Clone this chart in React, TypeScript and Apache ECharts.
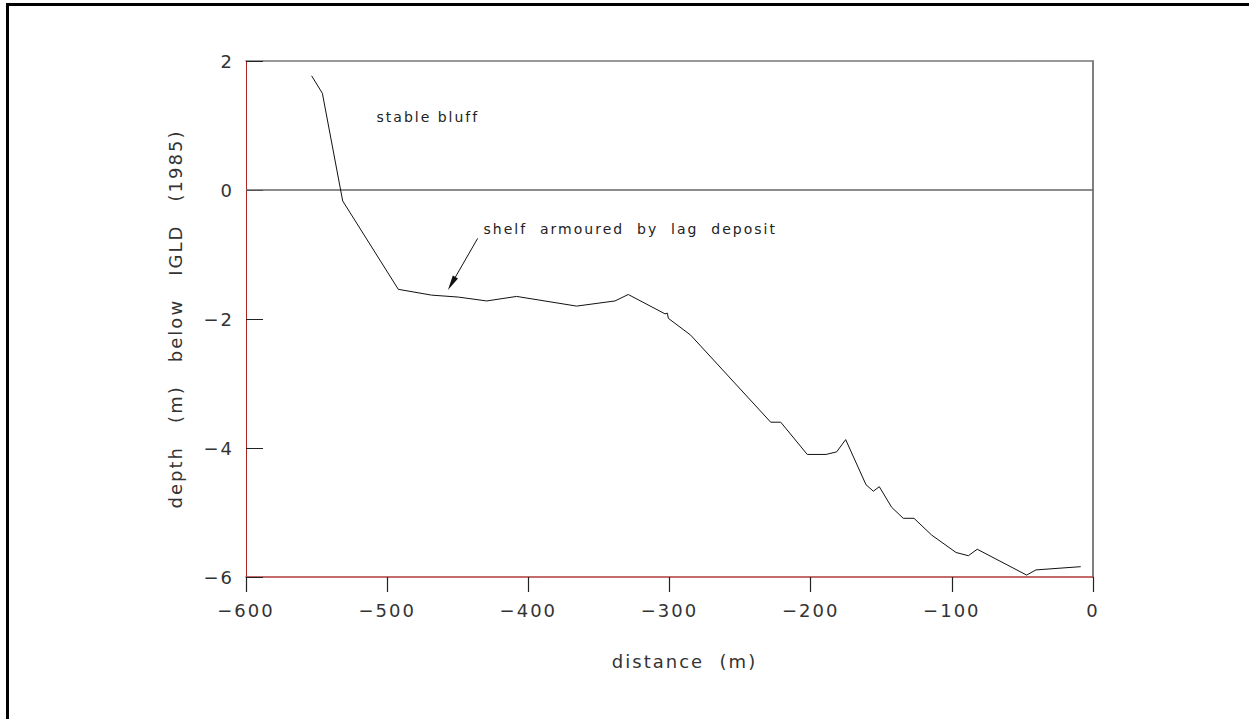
import React, { useEffect, useRef } from "react";
import * as echarts from "echarts";

// profile: distance (m) vs depth (m) below IGLD (1985)
const DISTANCE = [
  -553.5, -545.9, -531.5, -492.1, -468.5, -449.6, -429.5, -408.3, -365.8, -338.6,
  -329.2, -303.2, -301.5, -300.8, -285.0, -228.3, -221.2, -202.4, -189.1, -181.6,
  -175.2, -160.8, -155.6, -151.4, -142.6, -134.4, -126.8, -114.3, -97.0, -88.3,
  -82.0, -47.0, -40.4, -8.7,
];
const DEPTH = [
  1.77, 1.5, -0.17, -1.54, -1.63, -1.66, -1.72, -1.65, -1.8, -1.72,
  -1.62, -1.92, -1.91, -1.99, -2.25, -3.6, -3.6, -4.1, -4.1, -4.06,
  -3.87, -4.57, -4.67, -4.6, -4.92, -5.09, -5.09, -5.35, -5.62, -5.67,
  -5.57, -5.97, -5.89, -5.84,
];

const X_MIN = -600;
const X_MAX = 0;
const X_STEP = 100;
const Y_MIN = -6;
const Y_MAX = 2;
const Y_STEP = 2;

const ANNOTATIONS = [
  { name: "stable bluff", x: -507.9, y: 1.13 },
  { name: "shelf  armoured  by  lag  deposit", x: -432.1, y: -0.6 },
];
const ARROW_FROM = [-435.9, -0.75];
const ARROW_TO = [-454.3, -1.45];

const fmt = (v: number) => (v < 0 ? "\u2212" + Math.abs(v) : String(v));

export default function App() {
  const ref = useRef<HTMLDivElement>(null);

  useEffect(() => {
    if (!ref.current) return;
    const chart = echarts.init(ref.current, undefined, { renderer: "svg" });
    const font = "DejaVu Sans";
    const textColor = "#333";
    chart.setOption({
      animation: false,
      backgroundColor: "#ffffff",
      textStyle: { fontFamily: font },
      grid: { left: 246, right: 156, top: 61, bottom: 142 },
      graphic: [
        {
          type: "rect",
          shape: { x: 7.5, y: 4.5, width: 1300, height: 800 },
          style: { fill: "none", stroke: "#000", lineWidth: 3 },
          z: -10,
        },
      ],
      xAxis: [
        {
          type: "value",
          min: X_MIN,
          max: X_MAX,
          interval: X_STEP,
          position: "bottom",
          name: "distance  (m)",
          nameLocation: "middle",
          nameGap: 75,
          nameTextStyle: { fontSize: 18, color: textColor, fontFamily: font, padding: [0, 0, 0, 30] },
          axisLine: { show: true, onZero: false, lineStyle: { color: "#b03a3a", width: 1.5 } },
          axisTick: { show: true, inside: false, length: 15, lineStyle: { color: "#222", width: 1.2 } },
          axisLabel: { margin: 24, fontSize: 18, color: textColor, fontFamily: font, formatter: fmt },
          splitLine: { show: false },
        },
        {
          type: "value",
          min: X_MIN,
          max: X_MAX,
          position: "top",
          axisLine: { show: true, onZero: false, lineStyle: { color: "#777", width: 1.5 } },
          axisTick: { show: false },
          axisLabel: { show: false },
          splitLine: { show: false },
        },
      ],
      yAxis: [
        {
          type: "value",
          min: Y_MIN,
          max: Y_MAX,
          interval: Y_STEP,
          position: "left",
          name: "depth   (m)   below   IGLD   (1985)",
          nameLocation: "middle",
          nameGap: 62,
          nameTextStyle: { fontSize: 18, color: textColor, fontFamily: font },
          axisLine: { show: true, onZero: false, lineStyle: { color: "#b22222", width: 1 } },
          axisTick: { show: true, inside: true, length: 17, lineStyle: { color: "#222", width: 1 } },
          axisLabel: { margin: 12, fontSize: 18, color: textColor, fontFamily: font, formatter: fmt },
          splitLine: { show: false },
        },
        {
          type: "value",
          min: Y_MIN,
          max: Y_MAX,
          position: "right",
          axisLine: { show: true, onZero: false, lineStyle: { color: "#555", width: 1.5 } },
          axisTick: { show: false },
          axisLabel: { show: false },
          splitLine: { show: false },
        },
      ],
      series: [
        {
          type: "line",
          data: DISTANCE.map((d, i) => [d, DEPTH[i]]),
          symbol: "none",
          lineStyle: { color: "#111", width: 1 },
          z: 5,
          markLine: {
            silent: true,
            symbol: "none",
            label: { show: false },
            lineStyle: { color: "#111", width: 1, type: "solid" },
            data: [
              { yAxis: 0, lineStyle: { color: "#666", width: 1.5, type: "solid" } },
              [
                { coord: ARROW_FROM, symbol: "none" },
                { coord: ARROW_TO, symbol: "triangle", symbolSize: [6, 15] },
              ],
            ],
          },
          markPoint: {
            silent: true,
            symbol: "circle",
            symbolSize: 1,
            itemStyle: { color: "rgba(0,0,0,0)" },
            label: {
              show: true,
              position: "right",
              distance: 0,
              formatter: "{b}",
              fontSize: 14,
              color: "#222",
              fontFamily: font,
            },
            data: ANNOTATIONS.map((a) => ({ name: a.name, coord: [a.x, a.y] })),
          },
        },
      ],
    });
    return () => chart.dispose();
  }, []);

  return (
    <>
      <style>{`body{margin:0} #root svg text{letter-spacing:2px}`}</style>
      <div
        ref={ref}
        style={{ position: "absolute", left: 0, top: 0, width: 1249, height: 719 }}
      />
    </>
  );
}
